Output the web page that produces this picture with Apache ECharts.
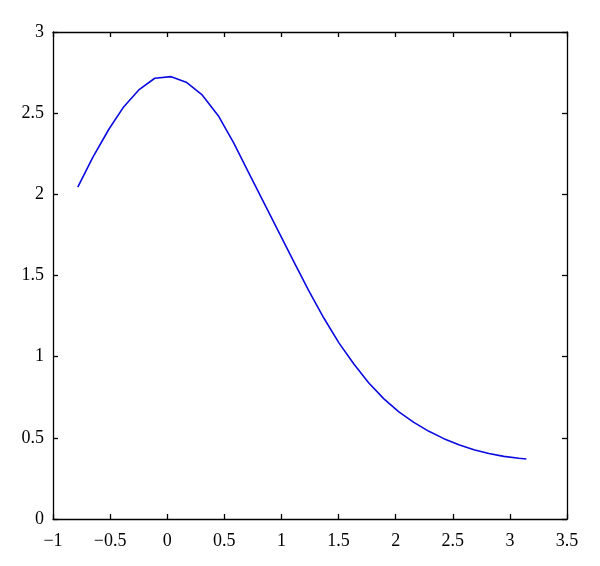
<!DOCTYPE html>
<html>
<head>
<meta charset="utf-8">
<script src="https://cdn.jsdelivr.net/npm/echarts@6/dist/echarts.min.js"></script>
<style>
html,body{margin:0;padding:0;background:#fff;}
#chart{width:600px;height:566px;}
</style>
</head>
<body>
<div id="chart"></div>
<script>
// Data
var xValues = [-0.783,-0.654,-0.511,-0.380,-0.249,-0.109,0.035,0.166,0.306,0.452,
  0.583,0.715,0.846,0.977,1.109,1.240,1.371,1.503,1.634,1.765,
  1.897,2.028,2.159,2.291,2.422,2.553,2.685,2.816,2.947,3.079,3.144];
var yValues = [2.044,2.224,2.401,2.540,2.643,2.715,2.725,2.691,2.612,2.479,
  2.315,2.131,1.949,1.767,1.584,1.405,1.238,1.085,0.955,0.838,
  0.740,0.660,0.595,0.540,0.495,0.458,0.427,0.403,0.386,0.374,0.370];
var xTicks = [-1,-0.5,0,0.5,1,1.5,2,2.5,3,3.5];
var yTicks = [0,0.5,1,1.5,2,2.5,3];

var points = xValues.map(function(x,i){return [x,yValues[i]];});
var fmt = function(v){ return String(v).replace('-', '\u2212'); };
var labelFont = {fontFamily:'Liberation Serif', fontSize:18, color:'#000'};
var axisLine = {show:true, onZero:false, lineStyle:{color:'#000', width:1.3}};
var tick = {show:true, inside:true, length:5, lineStyle:{color:'#000', width:1.3}};

var chart = echarts.init(document.getElementById('chart'), null, {renderer:'canvas'});
chart.setOption({
  animation:false,
  backgroundColor:'#fff',
  grid:{left:53, right:33, top:32, bottom:47, containLabel:false},
  xAxis:[{
    type:'value', min:xTicks[0], max:xTicks[xTicks.length-1], interval:0.5,
    position:'bottom', axisLine:axisLine, axisTick:tick, splitLine:{show:false},
    axisLabel:Object.assign({margin:13, formatter:fmt}, labelFont)
  },{
    type:'value', min:xTicks[0], max:xTicks[xTicks.length-1], interval:0.5,
    position:'top', axisLine:axisLine, axisTick:tick, splitLine:{show:false},
    axisLabel:{show:false}
  }],
  yAxis:[{
    type:'value', min:yTicks[0], max:yTicks[yTicks.length-1], interval:0.5,
    position:'left', axisLine:axisLine, axisTick:tick, splitLine:{show:false},
    axisLabel:Object.assign({margin:9, formatter:fmt}, labelFont)
  },{
    type:'value', min:yTicks[0], max:yTicks[yTicks.length-1], interval:0.5,
    position:'right', axisLine:axisLine, axisTick:tick, splitLine:{show:false},
    axisLabel:{show:false}
  }],
  series:[{
    type:'line', data:points, showSymbol:false, smooth:false,
    xAxisIndex:0, yAxisIndex:0,
    lineStyle:{color:'#0a0ae0', width:1.6}
  }]
});
</script>
</body>
</html>
